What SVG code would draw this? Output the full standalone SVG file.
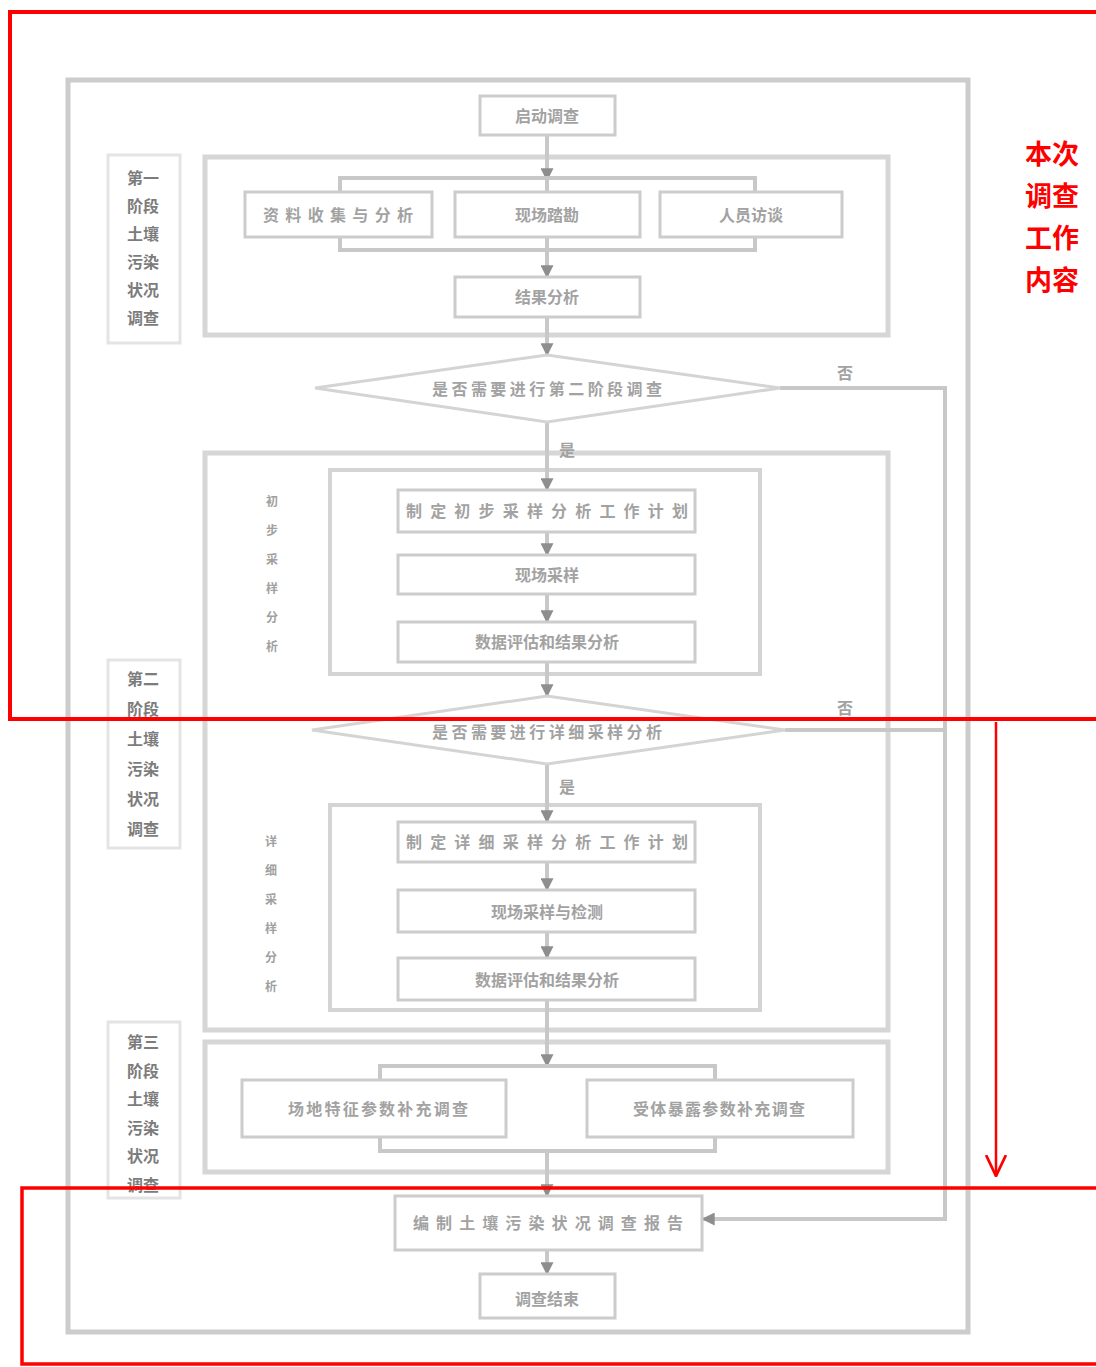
<svg xmlns="http://www.w3.org/2000/svg" width="1096" height="1367" viewBox="0 0 1096 1367">
<defs>
<marker id="ah" viewBox="0 0 10 10" refX="9" refY="5" markerWidth="13" markerHeight="13" markerUnits="userSpaceOnUse" orient="auto">
<path d="M0,0 L10,5 L0,10 z" fill="#8e8e8e"/>
</marker>
<marker id="redv" viewBox="0 0 20 20" refX="19" refY="10" markerWidth="22" markerHeight="22" markerUnits="userSpaceOnUse" orient="auto">
<path d="M0,1 L19,10 L0,19" fill="none" stroke="#ff0000" stroke-width="2.5"/>
</marker>
</defs>
<style>
.frame{fill:none;stroke:#cccccc;stroke-width:5}
.cont{fill:none;stroke:#d6d6d6;stroke-width:5}
.inner{fill:none;stroke:#d4d4d4;stroke-width:4}
.box{fill:#fff;stroke:#cccccc;stroke-width:3}
.lblbox{fill:none;stroke:#e4e4e4;stroke-width:3}
.dia{fill:#fff;stroke:#d4d4d4;stroke-width:3}
.t{font-family:"Noto Sans CJK SC","Noto Sans",sans-serif;font-size:16px;fill:#a2a2a2;font-weight:bold;text-anchor:middle;dominant-baseline:central}
.lbl{font-family:"Noto Sans CJK SC","Noto Sans",sans-serif;font-size:16px;fill:#7c7c7c;font-weight:bold;text-anchor:middle;dominant-baseline:central}
.sub{font-family:"Noto Sans CJK SC","Noto Sans",sans-serif;font-size:12px;fill:#a0a0a0;font-weight:bold;text-anchor:middle;dominant-baseline:central}
.conn{fill:none;stroke:#c8c8c8;stroke-width:4}
.redl{fill:none;stroke:#ff0000;stroke-width:4}
.redt{font-family:"Noto Sans CJK SC","Noto Sans",sans-serif;font-size:27px;fill:#ff0000;font-weight:bold}
</style>
<rect width="1096" height="1367" fill="#fff"/>

<!-- outer frame -->
<rect id="outer-frame" class="frame" x="68" y="80" width="900" height="1252"/>

<!-- containers -->
<g id="stage1-container"><rect class="cont" x="205" y="157" width="683" height="178"/></g>
<g id="stage2-container"><rect class="cont" x="205" y="453" width="683" height="577"/></g>
<g id="stage3-container"><rect class="cont" x="205" y="1042" width="683" height="130"/></g>
<g id="prelim-frame"><rect class="inner" x="330" y="470" width="430" height="204"/></g>
<g id="detail-frame"><rect class="inner" x="330" y="805" width="430" height="205"/></g>

<!-- connectors -->
<g id="connectors">
<path class="conn" d="M547,135 V180" marker-end="url(#ah)"/>
<path class="conn" d="M340,192 V178 H755 V192 M547,178 V192"/>
<path class="conn" d="M340,237 V250 H755 V237 M547,237 V250"/>
<path class="conn" d="M547,250 V277" marker-end="url(#ah)"/>
<path class="conn" d="M547,317 V355" marker-end="url(#ah)"/>
<path class="conn" d="M547,422 V490" marker-end="url(#ah)"/>
<path class="conn" d="M547,532 V555" marker-end="url(#ah)"/>
<path class="conn" d="M547,594 V622" marker-end="url(#ah)"/>
<path class="conn" d="M547,662 V696" marker-end="url(#ah)"/>
<path class="conn" d="M547,764 V822" marker-end="url(#ah)"/>
<path class="conn" d="M547,862 V890" marker-end="url(#ah)"/>
<path class="conn" d="M547,932 V958" marker-end="url(#ah)"/>
<path class="conn" d="M547,1000 V1066" marker-end="url(#ah)"/>
<path class="conn" d="M380,1080 V1066 H715 V1080"/>
<path class="conn" d="M380,1137 V1151 H715 V1137"/>
<path class="conn" d="M547,1151 V1196" marker-end="url(#ah)"/>
<path class="conn" d="M547,1250 V1274" marker-end="url(#ah)"/>
<path class="conn" d="M780,388 H945 V1219 H703" marker-end="url(#ah)"/>
<path class="conn" d="M785,730 H945"/>
<text class="t" x="845" y="372">否</text>
<text class="t" x="845" y="707">否</text>
<text class="t" x="567" y="449">是</text>
<text class="t" x="567" y="786">是</text>
</g>

<!-- nodes -->
<g id="start"><rect class="box" x="480" y="96" width="135" height="39"/><text class="t" x="547" y="115">启动调查</text></g>

<g id="n-collect"><rect class="box" x="245" y="192" width="187" height="45"/><text class="t" x="338" y="214" textLength="150" lengthAdjust="spacing">资料收集与分析</text></g>
<g id="n-survey"><rect class="box" x="455" y="192" width="185" height="45"/><text class="t" x="547" y="214">现场踏勘</text></g>
<g id="n-interview"><rect class="box" x="660" y="192" width="182" height="45"/><text class="t" x="751" y="214">人员访谈</text></g>
<g id="n-result"><rect class="box" x="455" y="277" width="185" height="40"/><text class="t" x="547" y="296">结果分析</text></g>

<g id="d1"><polygon class="dia" points="315,388 547,355 780,388 547,422"/><text class="t" x="547" y="388" textLength="230" lengthAdjust="spacing">是否需要进行第二阶段调查</text></g>

<g id="n-p1"><rect class="box" x="398" y="490" width="297" height="42"/><text class="t" x="547" y="510" textLength="282" lengthAdjust="spacing">制定初步采样分析工作计划</text></g>
<g id="n-p2"><rect class="box" x="398" y="555" width="297" height="39"/><text class="t" x="547" y="574">现场采样</text></g>
<g id="n-p3"><rect class="box" x="398" y="622" width="297" height="40"/><text class="t" x="547" y="641">数据评估和结果分析</text></g>

<g id="d2"><polygon class="dia" points="312,730 547,696 785,730 547,764"/><text class="t" x="547" y="731" textLength="230" lengthAdjust="spacing">是否需要进行详细采样分析</text></g>

<g id="n-d1"><rect class="box" x="398" y="822" width="297" height="40"/><text class="t" x="547" y="841" textLength="282" lengthAdjust="spacing">制定详细采样分析工作计划</text></g>
<g id="n-d2"><rect class="box" x="398" y="890" width="297" height="42"/><text class="t" x="547" y="911">现场采样与检测</text></g>
<g id="n-d3"><rect class="box" x="398" y="958" width="297" height="42"/><text class="t" x="547" y="979">数据评估和结果分析</text></g>

<g id="n-s3a"><rect class="box" x="242" y="1080" width="264" height="57"/><text class="t" x="378" y="1108" textLength="180" lengthAdjust="spacing">场地特征参数补充调查</text></g>
<g id="n-s3b"><rect class="box" x="587" y="1080" width="266" height="57"/><text class="t" x="719" y="1108" textLength="172" lengthAdjust="spacing">受体暴露参数补充调查</text></g>

<g id="report"><rect class="box" x="395" y="1196" width="307" height="54"/><text class="t" x="548" y="1222" textLength="270" lengthAdjust="spacing">编制土壤污染状况调查报告</text></g>
<g id="end"><rect class="box" x="480" y="1274" width="135" height="44"/><text class="t" x="547" y="1298">调查结束</text></g>

<!-- stage labels -->
<g id="label-stage1"><rect class="lblbox" x="108" y="155" width="72" height="188"/>
<text class="lbl" x="143" y="177">第一</text><text class="lbl" x="143" y="205">阶段</text><text class="lbl" x="143" y="233">土壤</text><text class="lbl" x="143" y="261">污染</text><text class="lbl" x="143" y="289">状况</text><text class="lbl" x="143" y="317">调查</text></g>
<g id="label-stage2"><rect class="lblbox" x="108" y="660" width="72" height="188"/>
<text class="lbl" x="143" y="678">第二</text><text class="lbl" x="143" y="708">阶段</text><text class="lbl" x="143" y="738">土壤</text><text class="lbl" x="143" y="768">污染</text><text class="lbl" x="143" y="798">状况</text><text class="lbl" x="143" y="828">调查</text></g>
<g id="label-stage3"><rect class="lblbox" x="108" y="1022" width="72" height="176"/>
<text class="lbl" x="143" y="1041">第三</text><text class="lbl" x="143" y="1070">阶段</text><text class="lbl" x="143" y="1098">土壤</text><text class="lbl" x="143" y="1127">污染</text><text class="lbl" x="143" y="1155">状况</text><text class="lbl" x="143" y="1184">调查</text></g>
<g id="label-prelim">
<text class="sub" x="272" y="500">初</text><text class="sub" x="272" y="529">步</text><text class="sub" x="272" y="558">采</text><text class="sub" x="272" y="587">样</text><text class="sub" x="272" y="616">分</text><text class="sub" x="272" y="645">析</text></g>
<g id="label-detail">
<text class="sub" x="271" y="840">详</text><text class="sub" x="271" y="869">细</text><text class="sub" x="271" y="898">采</text><text class="sub" x="271" y="927">样</text><text class="sub" x="271" y="956">分</text><text class="sub" x="271" y="985">析</text></g>

<!-- red annotations -->
<g id="red-annotations">
<rect class="redl" x="10" y="12" width="1100" height="707"/>
<rect class="redl" x="22" y="1188" width="1090" height="176" style="stroke-width:3.5"/>
<path d="M996,722 V1176" fill="none" stroke="#ff0000" stroke-width="2.5" marker-end="url(#redv)"/>
<text class="redt" x="1025" y="164">本次</text>
<text class="redt" x="1025" y="206">调查</text>
<text class="redt" x="1025" y="248">工作</text>
<text class="redt" x="1025" y="290">内容</text>
</g>
</svg>
